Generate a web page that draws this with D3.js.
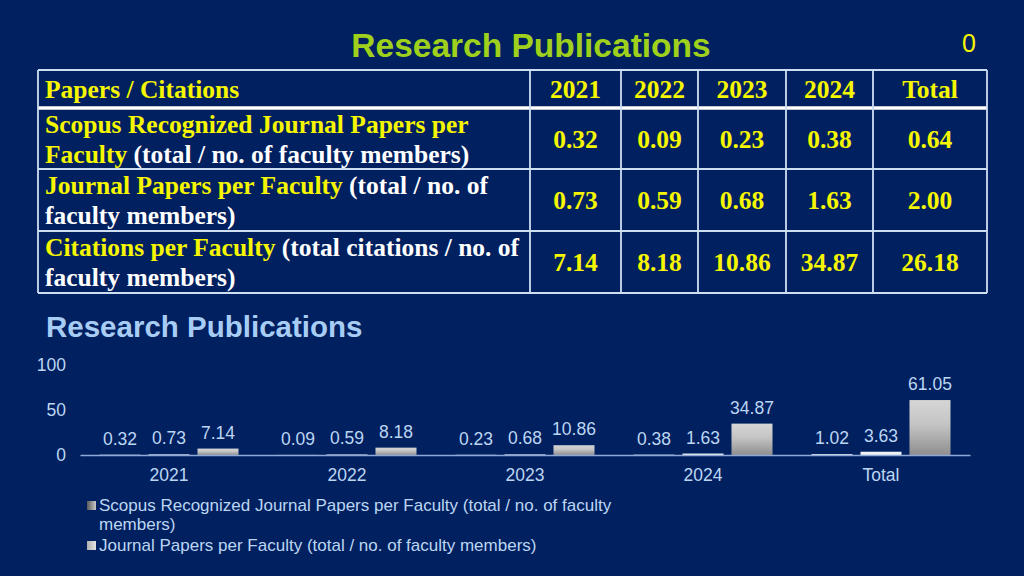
<!DOCTYPE html>
<html>
<head>
<meta charset="utf-8">
<script src="https://cdn.jsdelivr.net/npm/d3@7"></script>
<style>
  html, body { margin: 0; padding: 0; background: #002060; }
  svg { display: block; }
</style>
</head>
<body>
<div id="chart"></div>
<script>
// table data
const tableCols = ["2021", "2022", "2023", "2024", "Total"];
const tableHeader = "Papers / Citations";
// each row label: lines, each line a list of [text, highlighted]
const rowLabels = [
  [[["Scopus Recognized Journal Papers per", true]], [["Faculty", true], [" (total / no. of faculty members)", false]]],
  [[["Journal Papers per Faculty", true], [" (total / no. of", false]], [["faculty members)", false]]],
  [[["Citations per Faculty", true], [" (total citations / no. of", false]], [["faculty members)", false]]]
];
const scopusRow = ["0.32", "0.09", "0.23", "0.38", "0.64"];
const journalRow = ["0.73", "0.59", "0.68", "1.63", "2.00"];
const citationRow = ["7.14", "8.18", "10.86", "34.87", "26.18"];

// chart data
const groups = ["2021", "2022", "2023", "2024", "Total"];
const scopus = [0.32, 0.09, 0.23, 0.38, 1.02];
const journal = [0.73, 0.59, 0.68, 1.63, 3.63];
const citations = [7.14, 8.18, 10.86, 34.87, 61.05];
const yTicks = [0, 50, 100];
const legendItems = [
  ["Scopus Recognized Journal Papers per Faculty (total / no. of faculty", "members)"],
  ["Journal Papers per Faculty (total / no. of faculty members)"]
];

const width = 1024, height = 576;
const svg = d3.select("#chart").append("svg")
    .attr("width", width)
    .attr("height", height);

svg.append("rect").attr("width", width).attr("height", height).attr("fill", "#002060");

const defs = svg.append("defs");
const g3 = defs.append("linearGradient").attr("id", "barGrad").attr("x1", 0).attr("y1", 0).attr("x2", 0).attr("y2", 1);
g3.append("stop").attr("offset", "0%").attr("stop-color", "#d6d6d6");
g3.append("stop").attr("offset", "45%").attr("stop-color", "#c4c4c4");
g3.append("stop").attr("offset", "100%").attr("stop-color", "#8e8e8e");
const gl1 = defs.append("linearGradient").attr("id", "legGrad1").attr("x1", 0).attr("y1", 0).attr("x2", 1).attr("y2", 0);
gl1.append("stop").attr("offset", "0%").attr("stop-color", "#5a5a5a");
gl1.append("stop").attr("offset", "100%").attr("stop-color", "#c8c8c8");
const gl2 = defs.append("linearGradient").attr("id", "legGrad2").attr("x1", 0).attr("y1", 0).attr("x2", 1).attr("y2", 0);
gl2.append("stop").attr("offset", "0%").attr("stop-color", "#b0b0b0");
gl2.append("stop").attr("offset", "100%").attr("stop-color", "#e4e4e4");

// slide title + page number
svg.append("text")
    .attr("x", 531).attr("y", 57)
    .attr("text-anchor", "middle")
    .style("font-family", "'Liberation Sans', Arial, sans-serif")
    .style("font-weight", "bold")
    .style("font-size", "33.5px")
    .attr("fill", "#9fd11c")
    .text("Research Publications");

svg.append("text")
    .attr("x", 969).attr("y", 52)
    .attr("text-anchor", "middle")
    .style("font-family", "'Liberation Sans', Arial, sans-serif")
    .style("font-size", "25px")
    .attr("fill", "#f5f500")
    .text("0");

// ---- TABLE ----
const colEdges = [38, 530, 621, 698, 786, 873, 987];
const rowEdges = [70, 108, 169, 231, 293];
const yellow = "#f6f600";
const serif = "'Liberation Serif', 'Times New Roman', serif";
const tblFont = "25.5px";
const tbl = svg.append("g");

// horizontal lines
tbl.selectAll("line.h")
  .data(rowEdges)
  .enter().append("line")
    .attr("x1", colEdges[0]).attr("x2", colEdges[colEdges.length - 1])
    .attr("y1", d => d).attr("y2", d => d)
    .attr("stroke", (d, i) => i === 1 ? "#ffffff" : "#cfdff2")
    .attr("stroke-width", (d, i) => i === 1 ? 3.5 : 1.8);

// vertical lines
tbl.selectAll("line.v")
  .data(colEdges)
  .enter().append("line")
    .attr("x1", d => d).attr("x2", d => d)
    .attr("y1", rowEdges[0]).attr("y2", rowEdges[rowEdges.length - 1])
    .attr("stroke", "#cfdff2")
    .attr("stroke-width", 1.8);

// header
tbl.append("text")
    .attr("x", 45).attr("y", 98)
    .style("font-family", serif).style("font-weight", "bold").style("font-size", tblFont)
    .attr("fill", yellow)
    .text(tableHeader);

tbl.selectAll("text.colhead")
  .data(tableCols)
  .enter().append("text")
    .attr("x", (d, i) => (colEdges[i + 1] + colEdges[i + 2]) / 2)
    .attr("y", 98)
    .attr("text-anchor", "middle")
    .style("font-family", serif).style("font-weight", "bold").style("font-size", tblFont)
    .attr("fill", yellow)
    .text(d => d);

// row labels
rowLabels.forEach((lines, r) => {
  const top = rowEdges[r + 1];
  lines.forEach((segs, li) => {
    const t = tbl.append("text")
        .attr("x", 45)
        .attr("y", top + 25 + li * 30)
        .style("font-family", serif).style("font-weight", "bold").style("font-size", tblFont);
    t.selectAll("tspan")
      .data(segs)
      .enter().append("tspan")
        .attr("fill", d => d[1] ? yellow : "#ffffff")
        .text(d => d[0]);
  });
});

// values
[scopusRow, journalRow, citationRow].forEach((row, r) => {
  const mid = (rowEdges[r + 1] + rowEdges[r + 2]) / 2;
  tbl.selectAll(null)
    .data(row)
    .enter().append("text")
      .attr("x", (d, i) => (colEdges[i + 1] + colEdges[i + 2]) / 2)
      .attr("y", mid + 9)
      .attr("text-anchor", "middle")
      .style("font-family", serif).style("font-weight", "bold").style("font-size", tblFont)
      .attr("fill", yellow)
      .text(d => d);
});

// ---- CHART ----
const sans = "'Liberation Sans', Arial, sans-serif";
const labelColor = "#bcd6f2";
const chartFont = "17.5px";

svg.append("text")
    .attr("x", 46).attr("y", 337)
    .style("font-family", sans).style("font-weight", "bold").style("font-size", "29.5px")
    .attr("fill", "#a8cdf4")
    .text("Research Publications");

const x0 = d3.scaleBand().domain(groups).range([80, 970]).padding(0);
const series = [scopus, journal, citations];
const x1 = d3.scaleBand().domain([0, 1, 2]).range([0, x0.bandwidth()])
    .paddingInner(0.163).paddingOuter(0.398);
const y = d3.scaleLinear().domain([0, 100]).range([455, 365]);

const yAxis = svg.append("g")
    .attr("transform", "translate(72,0)")
    .call(d3.axisLeft(y).tickValues(yTicks).tickSize(0).tickPadding(6));
yAxis.select(".domain").remove();
yAxis.selectAll("text")
    .style("font-family", sans).style("font-size", chartFont)
    .attr("fill", labelColor);

const barColors = ["#e4ecf2", "#eef2f4", "url(#barGrad)"];

const barG = svg.append("g");
series.forEach((vals, s) => {
  barG.selectAll(null)
    .data(vals)
    .enter().append("rect")
      .attr("x", (d, i) => x0(groups[i]) + x1(s))
      .attr("width", x1.bandwidth())
      .attr("y", d => y(d))
      .attr("height", d => y(0) - y(d))
      .attr("fill", barColors[s]);

  barG.selectAll(null)
    .data(vals)
    .enter().append("text")
      .attr("x", (d, i) => x0(groups[i]) + x1(s) + x1.bandwidth() / 2)
      .attr("y", d => y(d) - 10)
      .attr("text-anchor", "middle")
      .style("font-family", sans).style("font-size", chartFont)
      .attr("fill", labelColor)
      .text(d => d.toFixed(2));
});

const xAxis = svg.append("g")
    .attr("transform", "translate(0,455)")
    .call(d3.axisBottom(x0).tickSize(0).tickSizeOuter(0).tickPadding(14));
xAxis.select(".domain").attr("stroke", "#8fa9d6").attr("stroke-width", 1.5);
xAxis.selectAll("text")
    .style("font-family", sans).style("font-size", chartFont)
    .attr("fill", labelColor);

// legend
const legG = svg.append("g");
let ly = 511;
legendItems.forEach((lines, i) => {
  legG.append("rect")
      .attr("x", 87).attr("y", ly - 10)
      .attr("width", 9).attr("height", 9)
      .attr("fill", i === 0 ? "url(#legGrad1)" : "url(#legGrad2)");
  lines.forEach((ln, k) => {
    legG.append("text")
        .attr("x", 99).attr("y", ly + k * 19)
        .style("font-family", sans).style("font-size", "17px")
        .attr("fill", labelColor)
        .text(ln);
  });
  ly += lines.length * 19 + 2;
});
</script>
</body>
</html>
